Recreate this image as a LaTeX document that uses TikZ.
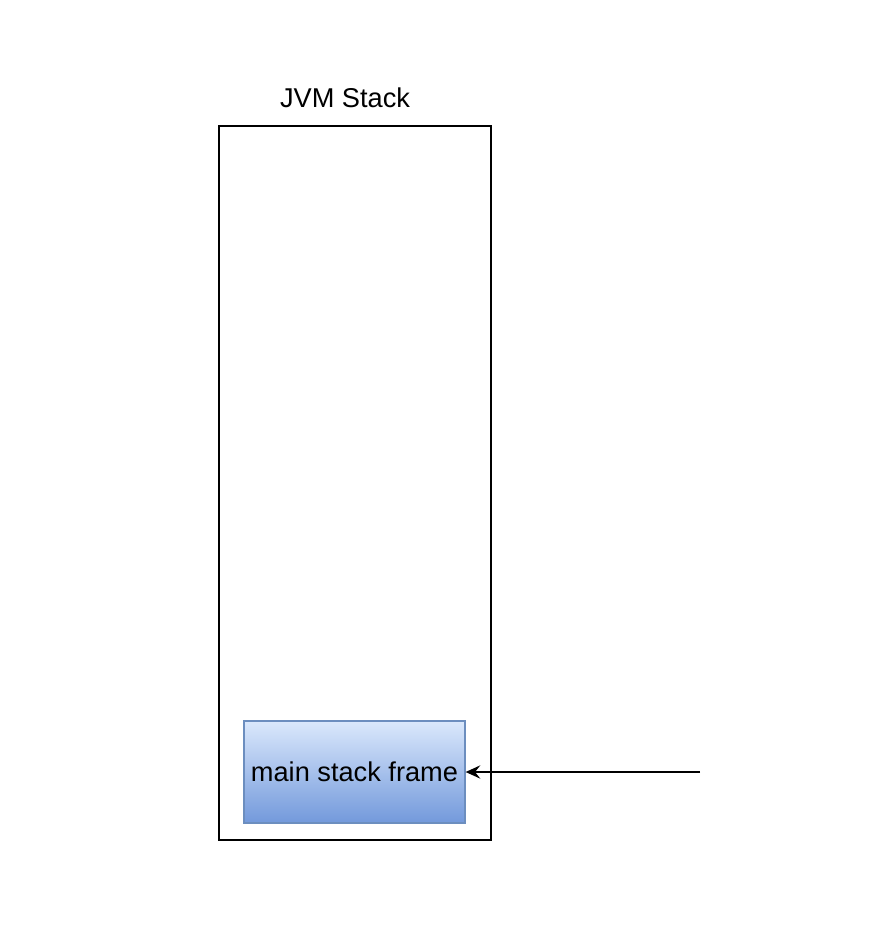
\documentclass[tikz,border=0pt]{standalone}
\usepackage{fontspec}
\setmainfont{Liberation Sans}
\usepackage{xcolor}
\usetikzlibrary{positioning,arrows.meta}
\definecolor{frametop}{HTML}{DAE8FC}
\definecolor{framebottom}{HTML}{7399DB}
\definecolor{frameline}{HTML}{6C8EBF}

\begin{document}
\begin{tikzpicture}[x=0.75pt,y=-0.75pt,
	stackbox/.style={draw=black, line width=1.5pt, minimum width=204pt, minimum height=535.5pt, inner sep=0pt},
	framebox/.style={draw=frameline, line width=1pt, top color=frametop, bottom color=framebottom, minimum width=165.75pt, minimum height=76.5pt, inner sep=0pt, font=\fontsize{20.4}{24}\selectfont},
	title/.style={font=\fontsize{20.4}{24}\selectfont}]
	\useasboundingbox (0,0) rectangle (870,940);
	\node[stackbox] (stack) at (355,483) {};
	\node[title] (label) at (345,98) {JVM Stack};
	\node[framebox] (main) at (354.5,772) {main stack frame};
	\coordinate (push) at (700,772);
	\draw[-{Stealth[length=11pt,width=10pt,inset=4pt]}, line width=1.2pt] (push) -- (main.east);
\end{tikzpicture}
\end{document}
